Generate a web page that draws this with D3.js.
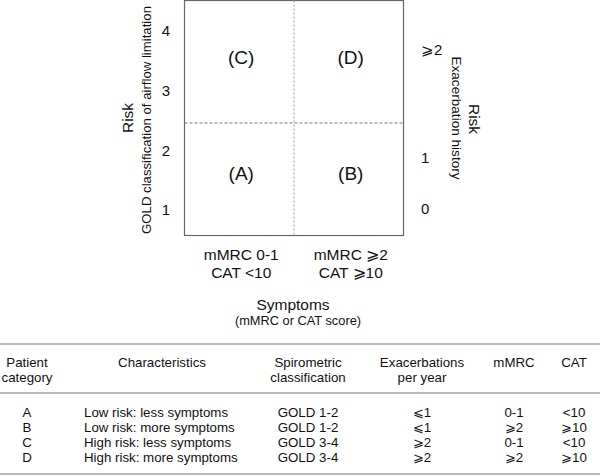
<!DOCTYPE html>
<html><head><meta charset="utf-8">
<script src="https://cdn.jsdelivr.net/npm/d3@7"></script>
<style>body{margin:0;background:#fff}svg{display:block;font-family:"Liberation Sans",Arial,sans-serif}</style>
</head><body>
<svg id="c" width="600" height="476"></svg>
<script>
const goldTicks = [1, 2, 3, 4];
const exacTicks = ["0", "1", "⩾2"];
const exacPos = [1.03, 1.87, 3.69]; // position on GOLD risk scale
const symptomCats = ["low", "high"];
const symptomLabels = [["mMRC 0-1", "CAT <10"], ["mMRC ⩾2", "CAT ⩾10"]];
const quadrants = [
  {label: "(A)", sym: "low", risk: "low"},
  {label: "(B)", sym: "high", risk: "low"},
  {label: "(C)", sym: "low", risk: "high"},
  {label: "(D)", sym: "high", risk: "high"}
];
const tableHeaders = [["Patient", "category"], ["Characteristics"], ["Spirometric", "classification"], ["Exacerbations", "per year"], ["mMRC"], ["CAT"]];
const categories = ["A", "B", "C", "D"];
const characteristics = ["Low risk: less symptoms", "Low risk: more symptoms", "High risk: less symptoms", "High risk: more symptoms"];
const spirometric = ["GOLD 1-2", "GOLD 1-2", "GOLD 3-4", "GOLD 3-4"];
const exacerbations = ["⩽1", "⩽1", "⩾2", "⩾2"];
const mmrc = ["0-1", "⩾2", "0-1", "⩾2"];
const cat = ["<10", "⩾10", "<10", "⩾10"];

const svg = d3.select("#c");
const box = {l: 184.5, r: 403.5, t: 0.5, b: 235.5};
const y = d3.scaleLinear().domain([0.5, 4.5]).range([240, 1]);
const x = d3.scaleBand().domain(symptomCats).range([box.l, box.r]);

// box
svg.append("rect").attr("x", box.l).attr("y", box.t).attr("width", box.r - box.l).attr("height", box.b - box.t)
  .attr("fill", "none").attr("stroke", "#666").attr("stroke-width", 1.2);
// dashed dividers
svg.append("line").attr("x1", box.l).attr("x2", box.r).attr("y1", 123).attr("y2", 123)
  .attr("stroke", "#777").attr("stroke-dasharray", "3,2");
svg.append("line").attr("x1", x("high")).attr("x2", x("high")).attr("y1", box.t).attr("y2", box.b)
  .attr("stroke", "#999").attr("stroke-dasharray", "2,2");

// quadrant labels
const qy = {high: 57, low: 173};
svg.selectAll("text.q").data(quadrants).join("text").attr("class", "q")
  .attr("x", d => x(d.sym) + x.bandwidth() / 2 + 2)
  .attr("y", d => qy[d.risk]).attr("dy", "0.35em").attr("text-anchor", "middle")
  .attr("font-size", 19).attr("fill", "#111").text(d => d.label);

// left axis ticks
const leftAxis = d3.axisLeft(y).tickValues(goldTicks).tickSize(0).tickPadding(0).tickFormat(d3.format("d"));
const gl = svg.append("g").attr("transform", "translate(166,0)").call(leftAxis);
gl.select(".domain").remove();
gl.selectAll("text").attr("font-size", 15).attr("fill", "#111").attr("text-anchor", "middle")
  .attr("font-family", "Liberation Sans, Arial, sans-serif");

// left titles
svg.append("text").attr("transform", "translate(133,118) rotate(-90)").attr("text-anchor", "middle")
  .attr("font-size", 15.5).attr("fill", "#111").text("Risk");
svg.append("text").attr("transform", "translate(151,120) rotate(-90)").attr("text-anchor", "middle")
  .attr("font-size", 13.2).attr("fill", "#111").text("GOLD classification of airflow limitation");

// right ticks
svg.selectAll("text.rt").data(exacTicks).join("text").attr("class", "rt")
  .attr("x", 421).attr("y", (d, i) => y(exacPos[i])).attr("dy", "0.35em")
  .attr("font-size", 15).attr("fill", "#111").text(d => d);
svg.append("text").attr("transform", "translate(469,119) rotate(90)").attr("text-anchor", "middle")
  .attr("font-size", 15.5).attr("fill", "#111").text("Risk");
svg.append("text").attr("transform", "translate(452,118) rotate(90)").attr("text-anchor", "middle")
  .attr("font-size", 13.6).attr("fill", "#111").text("Exacerbation history");

// bottom labels
symptomCats.forEach((c, i) => {
  symptomLabels[i].forEach((t, j) => {
    svg.append("text").attr("x", x(c) + x.bandwidth() / 2 + 2).attr("y", 255 + j * 18).attr("dy", "0.35em")
      .attr("text-anchor", "middle").attr("font-size", 15.5).attr("fill", "#111").text(t);
  });
});
svg.append("text").attr("x", 293).attr("y", 305).attr("dy", "0.35em").attr("text-anchor", "middle")
  .attr("font-size", 15.5).attr("fill", "#111").text("Symptoms");
svg.append("text").attr("x", 298).attr("y", 321).attr("dy", "0.35em").attr("text-anchor", "middle")
  .attr("font-size", 12.8).attr("fill", "#111").text("(mMRC or CAT score)");

// table
const colX = [27, 162, 308, 422, 514, 574];
const tableLines = [344, 393, 474];
svg.selectAll("line.tl").data(tableLines).join("line").attr("class", "tl")
  .attr("x1", 0).attr("x2", 600).attr("y1", d => d).attr("y2", d => d)
  .attr("stroke", "#777").attr("stroke-width", 1.2);
tableHeaders.forEach((h, i) => {
  h.forEach((t, j) => {
    svg.append("text").attr("x", colX[i]).attr("y", 362 + j * 15).attr("dy", "0.35em")
      .attr("text-anchor", "middle").attr("font-size", 13.3).attr("fill", "#111").text(t);
  });
});
const rowY = d3.scalePoint().domain(categories).range([412, 457]);
const cols = [categories, characteristics, spirometric, exacerbations, mmrc, cat];
cols.forEach((col, i) => {
  svg.selectAll("text.c" + i).data(col).join("text").attr("class", "c" + i)
    .attr("x", i === 1 ? 84 : colX[i]).attr("y", (d, k) => rowY(categories[k])).attr("dy", "0.35em")
    .attr("text-anchor", i === 1 ? "start" : "middle").attr("font-size", 13.3).attr("fill", "#111").text(d => d);
});
</script>
</body></html>
